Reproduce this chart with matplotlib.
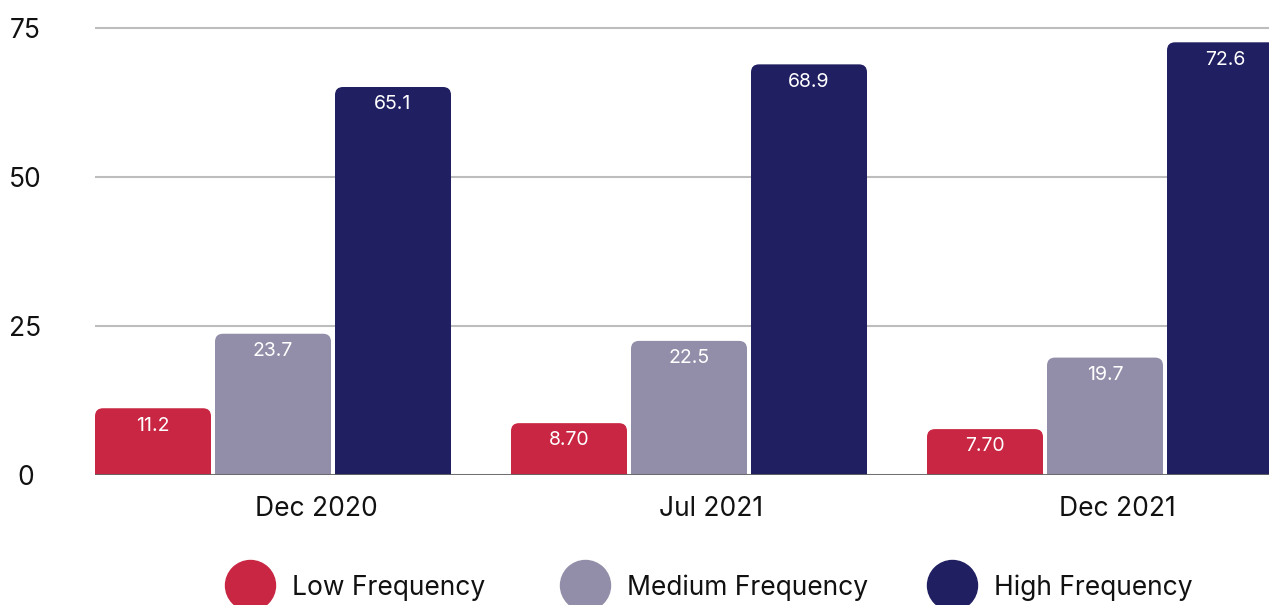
import numpy as np
import matplotlib
matplotlib.use("Agg")
import matplotlib.pyplot as plt
from matplotlib.path import Path
from matplotlib.patches import PathPatch
from matplotlib.lines import Line2D

plt.rcParams['font.family'] = ['Inter', 'DejaVu Sans']

# data
periods = ['Dec 2020', 'Jul 2021', 'Dec 2021']
series = ['Low Frequency', 'Medium Frequency', 'High Frequency']
low = [11.2, 8.70, 7.70]
medium = [23.7, 22.5, 19.7]
high = [65.1, 68.9, 72.6]
value_text = [['11.2', '8.70', '7.70'],
              ['23.7', '22.5', '19.7'],
              ['65.1', '68.9', '72.6']]
colors = ['#C82642', '#928DA8', '#201F62']

W, H, DPI = 1269, 605, 100
fig = plt.figure(figsize=(W / DPI, H / DPI), dpi=DPI)
ax = fig.add_axes([95 / W, 130 / H, 1 - 95 / W, 475 / H])

group_step = 3.4667
bar_w = 0.9667
x0 = np.arange(len(periods)) * group_step

ymax = 75 * 475 / 447
ax.set_xlim(-bar_w / 2, 9.3)
ax.set_ylim(0, ymax)

# px per data unit, used for the rounded top corners
px_x = 120.0
px_y = 447 / 75
rad = 8

def rounded_top(x, w, h):
    rx, ry = rad / px_x, rad / px_y
    ry = min(ry, h)
    verts = [(x, 0), (x, h - ry), (x, h), (x + rx, h),
             (x + w - rx, h), (x + w, h), (x + w, h - ry), (x + w, 0), (x, 0)]
    codes = [Path.MOVETO, Path.LINETO, Path.CURVE3, Path.CURVE3,
             Path.LINETO, Path.CURVE3, Path.CURVE3, Path.LINETO, Path.CLOSEPOLY]
    return Path(verts, codes)

for i, vals in enumerate([low, medium, high]):
    bars = ax.bar(x0 + i, vals, width=bar_w, color=colors[i], zorder=3)
    for b, txt in zip(bars, value_text[i]):
        b.set_visible(False)
        ax.add_patch(PathPatch(rounded_top(b.get_x(), b.get_width(), b.get_height()),
                               facecolor=colors[i], edgecolor='none', zorder=3))
        ax.annotate(txt, (b.get_x() + b.get_width() / 2, b.get_height()),
                    xytext=(0, -6), textcoords='offset points',
                    ha='center', va='top', color='white', fontsize=14, zorder=4)

# grid and axes
ax.set_yticks([0, 25, 50, 75])
ax.yaxis.grid(True, color='#BDBDBD', linewidth=1.5, zorder=0)
ax.axhline(0, color='#666666', linewidth=2, zorder=5)
for s in ax.spines.values():
    s.set_visible(False)
ax.tick_params(axis='y', length=0, pad=50, labelsize=19, labelcolor='#111111')
for lbl in ax.get_yticklabels():
    lbl.set_horizontalalignment('center')
ax.tick_params(axis='x', length=0, pad=15, labelsize=19, labelcolor='#111111')
ax.set_xticks(x0 + 1 + np.array([0.36, 0.18, 0.10]))
ax.set_xticklabels(periods)

# legend along the bottom edge
leg_x = [250, 585, 952]
for lx, name, c in zip(leg_x, series, colors):
    fig.add_artist(Line2D([lx / W], [1 - 585 / H], marker='o', markersize=36,
                          color=c, linestyle='none', transform=fig.transFigure))
    fig.text((lx + 42) / W, 1 - 588 / H, name, fontsize=19, color='#111111',
             ha='left', va='center')

fig.savefig('out.png', dpi=DPI)
